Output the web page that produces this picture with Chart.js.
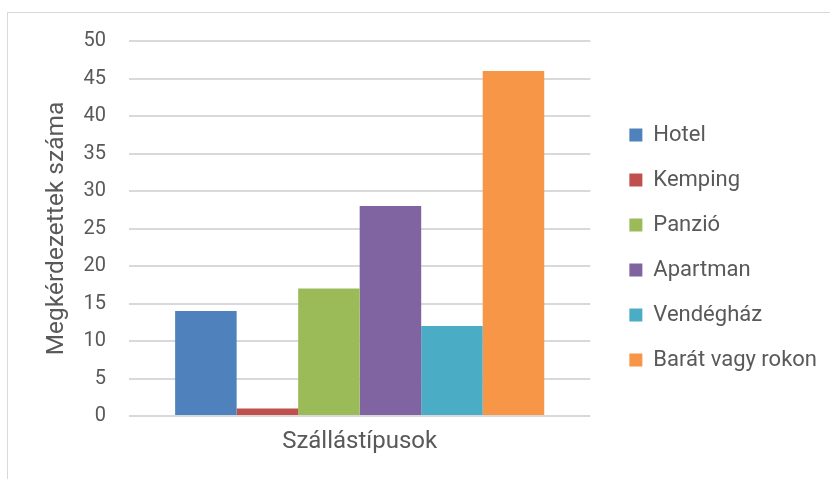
<!DOCTYPE html>
<html>
<head>
<meta charset="utf-8">
<script src="https://cdn.jsdelivr.net/npm/chart.js@4"></script>
<style>
    body { margin: 0; background: #fff; overflow: hidden; }
    #frame {
        position: absolute; left: 7px; top: 12px; width: 900px; height: 600px;
        border-left: 1px solid #d9d9d9; border-top: 1px solid #d9d9d9;
    }
    #myChart { position: absolute; left: 0; top: 0; }
</style>
</head>
<body>
<div id="frame"></div>
<canvas id="myChart" width="830" height="479"></canvas>
<script>
const categories = ["Szállástípusok"];
const seriesNames = ["Hotel", "Kemping", "Panzió", "Apartman", "Vendégház", "Barát vagy rokon"];
const seriesValues = [14, 1, 17, 28, 12, 46];
const seriesColors = ["#4f81bd", "#c0504d", "#9bbb59", "#8064a2", "#4bacc6", "#f79646"];
const yAxisTitle = "Megkérdezettek száma";

const textColor = "#595959";
const fontFamily = "Roboto, 'Liberation Sans', sans-serif";

// Chart.js caps a side legend at a fraction of the width, which would clip
// the longest label; let it take the room it needs.
const wideLegend = {
    id: "wideLegend",
    beforeLayout(chart) {
        const legend = chart.legend;
        if (legend && !legend._wide) {
            const update = legend.update.bind(legend);
            legend.update = (maxWidth, maxHeight, margins) =>
                update(Math.max(maxWidth, 260), maxHeight, margins);
            legend._wide = true;
        }
    },
};

const ctx = document.getElementById("myChart").getContext("2d");
const chart = new Chart(ctx, {
    type: "bar",
    data: {
        labels: categories,
        datasets: seriesNames.map((name, i) => ({
            label: name,
            data: [seriesValues[i]],
            backgroundColor: seriesColors[i],
            borderWidth: 0,
            categoryPercentage: 0.8,
            barPercentage: 1.0,
        })),
    },
    plugins: [wideLegend],
    options: {
        responsive: false,
        animation: false,
        layout: {
            padding: { left: 8, top: 41, bottom: 25, right: 3 },
        },
        scales: {
            x: {
                grid: { display: false, drawTicks: false },
                border: { display: false },
                ticks: { display: false },
                // the single category name sits under the bars like an axis title
                title: {
                    display: true,
                    text: categories[0],
                    color: textColor,
                    padding: 0,
                    font: { family: fontFamily, size: 24, lineHeight: 1.0 },
                },
                afterFit: (s) => { s.height = 38; },
            },
            y: {
                min: 0,
                max: 50,
                ticks: {
                    stepSize: 5,
                    color: textColor,
                    padding: 23,
                    font: { family: fontFamily, size: 20 },
                },
                grid: { color: "#d9d9d9", lineWidth: 2, drawTicks: false },
                border: { display: false },
                title: {
                    display: true,
                    text: yAxisTitle,
                    color: textColor,
                    padding: { top: 34, bottom: 0 },
                    font: { family: fontFamily, size: 24.5 },
                },
                afterFit: (s) => { s.width = 129 - 8; },
            },
            // empty spacer between the plot and the legend
            gap: {
                type: "linear",
                position: "right",
                grid: { display: false },
                border: { display: false },
                ticks: { display: false },
                afterFit: (s) => { s.width = 16; },
            },
        },
        plugins: {
            legend: {
                position: "right",
                labels: {
                    color: textColor,
                    boxWidth: 13,
                    boxHeight: 13,
                    padding: 23,
                    font: { family: fontFamily, size: 22 },
                },
            },
            tooltip: { enabled: false },
        },
    },
});
</script>
</body>
</html>
